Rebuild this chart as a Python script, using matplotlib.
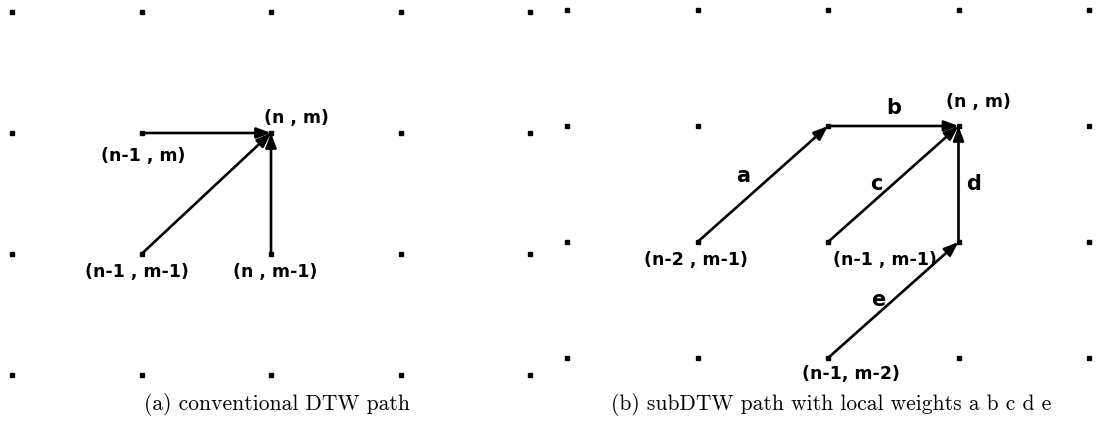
import numpy as np
import matplotlib.pyplot as plt

W, H = 1097, 428

# grid of cells (columns x rows), row 0 is the top row
n_cols = 5
n_rows = 4

# left panel: conventional DTW
left_nodes = ['(n , m)', '(n-1 , m)', '(n-1 , m-1)', '(n , m-1)']
left_node_pos = [(2, 1), (1, 1), (1, 2), (2, 2)]
left_arrows = [((1, 1), (2, 1)), ((1, 2), (2, 1)), ((2, 2), (2, 1))]
left_caption = '(a) conventional DTW path'

# right panel: subDTW with local weights
right_nodes = ['(n , m)', '(n-2 , m-1)', '(n-1 , m-1)', '(n-1, m-2)']
right_node_pos = [(3, 1), (1, 2), (2, 2), (2, 3)]
right_weights = ['a', 'b', 'c', 'd', 'e']
right_arrows = [((1, 2), (2, 1)), ((2, 1), (3, 1)), ((2, 2), (3, 1)),
                ((3, 2), (3, 1)), ((2, 3), (3, 2))]
right_caption = '(b) subDTW path with local weights a b c d e'

# label offsets in pixels (layout only)
left_node_off = [(25, 15), (2, -23), (-5, -18), (4, -18)]
right_node_off = [(20, 24), (-2, -18), (57, -18), (23, -16)]
weight_off = [(-20, 8), (0, 18), (-17, 0), (15, 0), (-15, 0)]


def make_panel(x0, x1, y0, y1):
    # x0..x1: pixel x of first/last column, y0..y1: pixel y of top/bottom row
    ax = fig.add_axes([x0 / W, 1 - y1 / H, (x1 - x0) / W, (y1 - y0) / H])
    ax.set_xlim(0, n_cols - 1)
    ax.set_ylim(n_rows - 1, 0)
    ax.axis('off')
    gx, gy = np.meshgrid(np.arange(n_cols), np.arange(n_rows))
    ax.plot(gx.ravel(), gy.ravel(), 's', color='black', ms=3.3, clip_on=False)
    return ax


def draw_arrows(ax, arrows):
    for start, end in arrows:
        ax.annotate('', xy=end, xytext=start,
                    arrowprops=dict(arrowstyle='-|>,head_length=0.85,head_width=0.32',
                                    lw=1.9, color='black', shrinkA=0, shrinkB=0,
                                    mutation_scale=10))


def draw_nodes(ax, names, pos, offs):
    for name, p, off in zip(names, pos, offs):
        ax.annotate(name, xy=p, xytext=off, textcoords='offset pixels',
                    ha='center', va='center', fontsize=12.5, fontweight='bold',
                    family='DejaVu Sans')


fig = plt.figure(figsize=(W / 100, H / 100), dpi=100)

ax1 = make_panel(12, 530, 12, 375)
draw_arrows(ax1, left_arrows)
draw_nodes(ax1, left_nodes, left_node_pos, left_node_off)

ax2 = make_panel(567, 1089, 10, 358)
draw_arrows(ax2, right_arrows)
draw_nodes(ax2, right_nodes, right_node_pos, right_node_off)
for w, (start, end), off in zip(right_weights, right_arrows, weight_off):
    mid = ((start[0] + end[0]) / 2, (start[1] + end[1]) / 2)
    ax2.annotate(w, xy=mid, xytext=off, textcoords='offset pixels',
                 ha='center', va='center', fontsize=15, fontweight='bold',
                 family='DejaVu Sans')

fig.text(277 / W, 1 - 405 / H, left_caption, ha='center', va='center',
         family='cmr10', fontsize=15.5)
fig.text(831 / W, 1 - 405 / H, right_caption, ha='center', va='center',
         family='cmr10', fontsize=15.5)

fig.savefig('out.png', dpi=100)
